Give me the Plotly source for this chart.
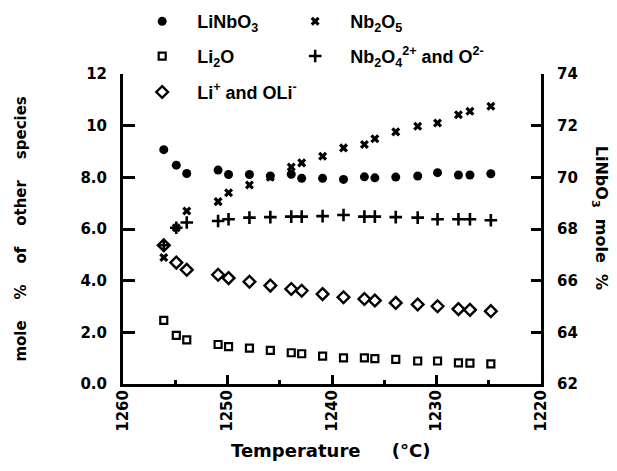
import plotly.graph_objects as go

# Temperature (°C) of each measurement
temperature = [1256.1, 1254.9, 1253.9, 1250.9, 1249.9, 1247.9, 1245.9, 1243.9, 1242.9,
               1240.9, 1238.9, 1236.9, 1235.9, 1233.9, 1231.8, 1229.9, 1227.9, 1226.8, 1224.8]

# LiNbO3 mole % (right axis)
linbo3 = [71.07, 70.47, 70.15, 70.28, 70.11, 70.11, 70.05, 70.12, 69.96, 69.96,
          69.92, 70.02, 69.98, 70.01, 70.05, 70.18, 70.09, 70.09, 70.14]
# mole % of other species (left axis)
nb2o5 = [4.90, 6.05, 6.70, 7.06, 7.40, 7.70, 8.00, 8.40, 8.56, 8.82,
         9.14, 9.27, 9.49, 9.76, 9.98, 10.10, 10.42, 10.56, 10.75]
li2o = [2.46, 1.88, 1.71, 1.53, 1.45, 1.39, 1.30, 1.21, 1.17, 1.08,
        1.01, 1.01, 0.98, 0.95, 0.89, 0.89, 0.82, 0.81, 0.78]
nb2o4 = [5.37, 6.05, 6.25, 6.31, 6.38, 6.44, 6.46, 6.48, 6.48, 6.50,
         6.54, 6.48, 6.48, 6.46, 6.44, 6.38, 6.38, 6.38, 6.34]
li_ion = [5.37, 4.70, 4.42, 4.23, 4.10, 3.96, 3.81, 3.68, 3.61, 3.48,
          3.36, 3.29, 3.23, 3.14, 3.08, 3.01, 2.90, 2.87, 2.82]

x_ticks = [1260, 1250, 1240, 1230, 1220]
x_minor = [1255, 1245, 1235, 1225]
y_ticks = [0, 2, 4, 6, 8, 10, 12]
y_ticktext = ["0.0", "2.0", "4.0", "6.0", "8.0", "10", "12"]
y2_ticks = [62, 64, 66, 68, 70, 72, 74]

BLACK = "black"
tick_font = dict(family="DejaVu Sans", size=15, color=BLACK, weight="bold")
leg_font = dict(family="Liberation Sans", size=18, color=BLACK, weight="bold")

fig = go.Figure()
fig.add_trace(go.Scatter(x=temperature, y=linbo3, yaxis="y2", mode="markers",
                         name="LiNbO<sub>3</sub>", legend="legend",
                         marker=dict(symbol="circle", size=9, color=BLACK)))
fig.add_trace(go.Scatter(x=temperature, y=nb2o5, mode="markers",
                         name="Nb<sub>2</sub>O<sub>5</sub>", legend="legend2",
                         marker=dict(symbol="x", size=8, color=BLACK, line=dict(width=0))))
fig.add_trace(go.Scatter(x=temperature, y=li2o, mode="markers",
                         name="Li<sub>2</sub>O", legend="legend3",
                         marker=dict(symbol="square-open", size=7, color=BLACK, line=dict(width=2.2, color=BLACK))))
fig.add_trace(go.Scatter(x=temperature, y=nb2o4, mode="markers",
                         name="Nb<sub>2</sub>O<sub>4</sub><sup>2+</sup> and O<sup>2-</sup>", legend="legend4",
                         marker=dict(symbol="cross-thin", size=9, color=BLACK, line=dict(width=2.6, color=BLACK))))
fig.add_trace(go.Scatter(x=temperature, y=li_ion, mode="markers",
                         name="Li<sup>+</sup> and OLi<sup>-</sup>", legend="legend5",
                         marker=dict(symbol="diamond-open", size=9, color=BLACK, line=dict(width=2.4, color=BLACK))))

def leg(xp, yp):
    return dict(x=xp, y=yp, xanchor="left", yanchor="middle", bgcolor="rgba(0,0,0,0)",
                borderwidth=0, font=leg_font, itemwidth=60)

col1, col2 = 0.010, 0.376
row1, row2, row3 = 1.169, 1.057, 0.941

fig.update_layout(
    width=617, height=471,
    margin=dict(l=115, r=84, t=66, b=95, autoexpand=False),
    paper_bgcolor="white", plot_bgcolor="white",
    showlegend=True,
    legend=leg(col1, row1), legend2=leg(col2, row1),
    legend3=leg(col1, row2), legend4=leg(col2, row2),
    legend5=leg(col1, row3),
    xaxis=dict(range=[1260, 1220], tickmode="array", tickvals=x_ticks,
               ticktext=[str(v) for v in x_ticks], tickangle=-90,
               ticks="inside", ticklen=9, tickwidth=3, tickcolor=BLACK,
               showline=True, linewidth=3, linecolor=BLACK, mirror=False,
               showgrid=False, zeroline=False, tickfont=tick_font, ticklabelstandoff=-3,
               minor=dict(tickmode="array", tickvals=x_minor, ticks="inside",
                          ticklen=4, tickwidth=3, tickcolor=BLACK, showgrid=False)),
    yaxis=dict(range=[0, 12], tickmode="array", tickvals=y_ticks, ticktext=y_ticktext,
               ticks="inside", ticklen=12, tickwidth=3, tickcolor=BLACK,
               showline=True, linewidth=3, linecolor=BLACK,
               showgrid=False, zeroline=False, tickfont=tick_font, ticklabelstandoff=10),
    yaxis2=dict(range=[62, 74], overlaying="y", side="right", tickmode="array",
                tickvals=y2_ticks, ticktext=[str(v) for v in y2_ticks],
                ticks="inside", ticklen=10, tickwidth=3, tickcolor=BLACK,
                showline=True, linewidth=3, linecolor=BLACK,
                showgrid=False, zeroline=False, tickfont=tick_font, ticklabelstandoff=10),
)

title_font = dict(family="DejaVu Sans", size=15, color=BLACK, weight="bold")
gap = "\u00a0" * 4
fig.add_annotation(text="mole" + gap + "%" + gap + "of" + gap + "other" + gap + "species",
                   xref="paper", yref="paper", x=-0.245, y=0.5, textangle=-90,
                   showarrow=False, font=title_font, xanchor="center", yanchor="middle")
fig.add_annotation(text="LiNbO<sub>3</sub>" + "\u00a0" * 2 + "mole" + "\u00a0" * 2 + "%",
                   xref="paper", yref="paper", x=1.142, y=0.535, textangle=90,
                   showarrow=False, font=dict(family="DejaVu Sans", size=16, color=BLACK, weight="bold"),
                   xanchor="center", yanchor="middle")
fig.add_annotation(text="Temperature" + "\u00a0" * 5 + "(°C)",
                   xref="paper", yref="paper", x=0.497, y=-0.215,
                   showarrow=False, font=dict(family="DejaVu Sans", size=18, color=BLACK, weight="bold"),
                   xanchor="center", yanchor="middle")

fig.write_html("out.html")
